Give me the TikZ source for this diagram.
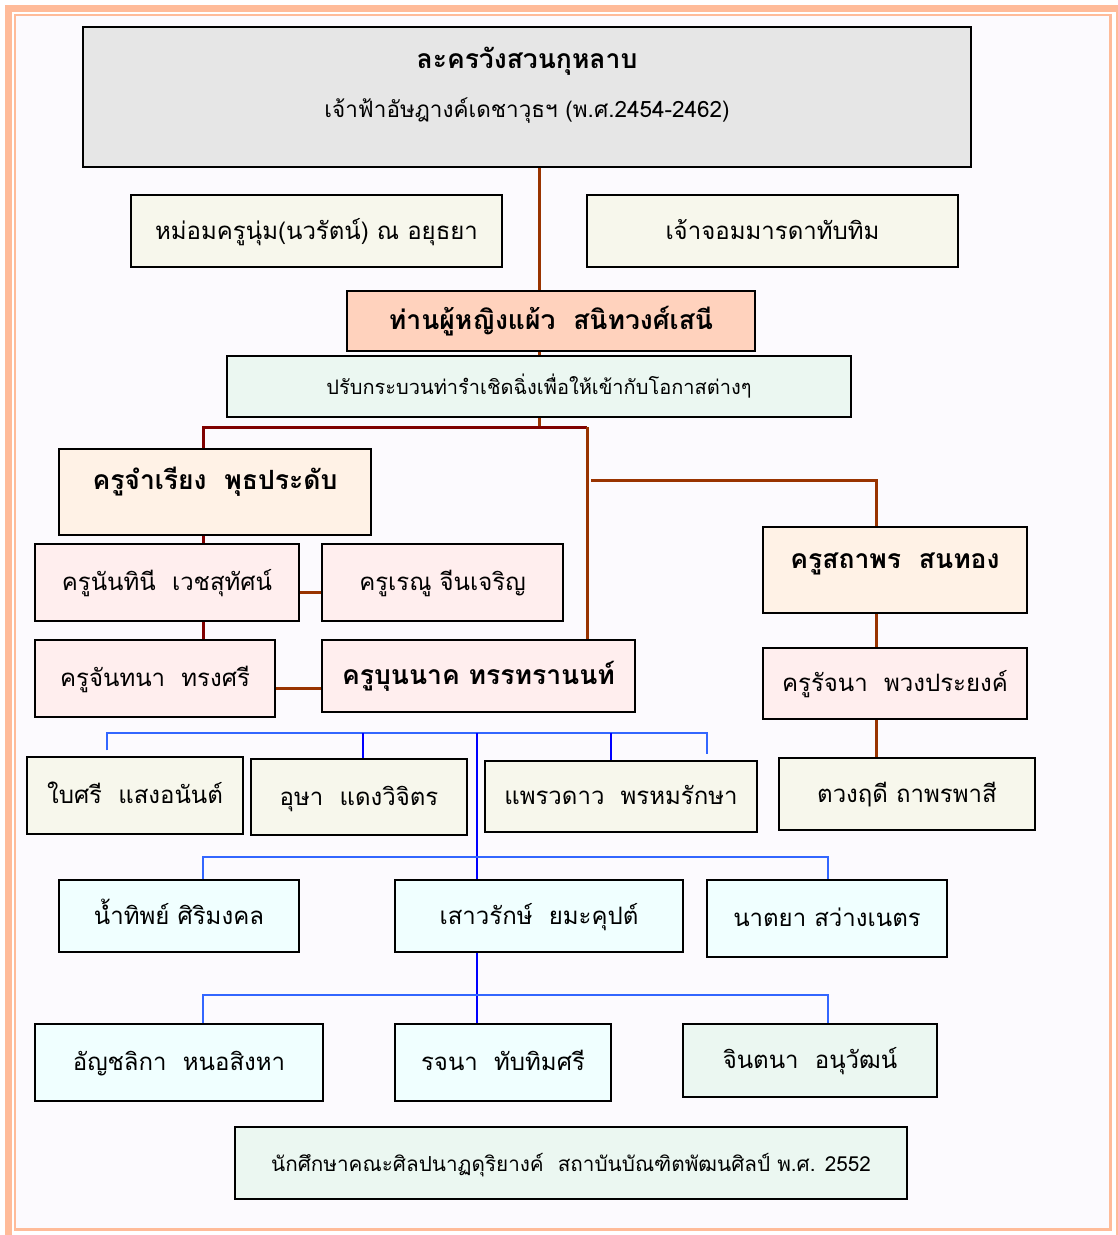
\documentclass[tikz,border=0pt]{standalone}
\usepackage{fontspec}
\usepackage{tikz}
\newfontfamily\thaifont[Script=Thai]{Loma}
\definecolor{greybox}{HTML}{E6E6E6}
\definecolor{beige}{HTML}{F7F7EC}
\definecolor{peach}{HTML}{FFD2BD}
\definecolor{cream}{HTML}{FFF2E6}
\definecolor{pinkbox}{HTML}{FFEEEE}
\definecolor{mint}{HTML}{EBF7F1}
\definecolor{azure}{HTML}{F0FFFF}
\definecolor{brownln}{HTML}{993300}
\definecolor{maroonln}{HTML}{800000}
\definecolor{blueln}{HTML}{3366FF}
\definecolor{dblueln}{HTML}{0000FF}
\definecolor{rim}{HTML}{FFBB99}
\definecolor{pagebg}{HTML}{FCFAFE}

\begin{document}
\begin{tikzpicture}[x=1pt, y=-1pt,
    box/.style={draw, line width=1.5pt, inner sep=0pt, text height=20pt, text depth=4pt, font=\thaifont\fontsize{24}{28}\selectfont},
    head/.style={box, font=\thaifont\bfseries\fontsize{26.5}{30}\selectfont},
    note/.style={box, font=\thaifont\fontsize{20}{24}\selectfont},
    brn/.style={draw=brownln, line width=3pt},
    mrn/.style={draw=maroonln, line width=3pt},
    lnk/.style={draw=blueln, line width=2.5pt},
    dlnk/.style={draw=dblueln, line width=2pt}
]
\useasboundingbox (0,0) rectangle (1118,1235);
\fill[white] (0,0) rectangle (1118,1235);
\fill[pagebg] (15,15) rectangle (1110.5,1229.5);
\draw[rim, line width=7pt] (8.5,8.5) rectangle (1119,1239);
\draw[rim, line width=2.5pt] (15,15) rectangle (1110.5,1229.5);

\node[box, fill=greybox, minimum width=888pt, minimum height=140pt, text height=41pt, text depth=99pt] (palace) at (527,97)
  {\begin{tabular}[t]{@{}c@{}}{\bfseries\fontsize{26.5}{28}\selectfont ละครวังสวนกุหลาบ}\\[21pt]\fontsize{22.5}{26}\selectfont เจ้าฟ้าอัษฎางค์เดชาวุธฯ (พ.ศ.2454-2462)\end{tabular}};
\node[box, fill=beige, minimum width=371pt, minimum height=72pt] (mom) at (316.5,231) {หม่อมครูนุ่ม(นวรัตน์) ณ อยุธยา};
\node[box, fill=beige, minimum width=371pt, minimum height=72pt] (jom) at (772.5,231) {เจ้าจอมมารดาทับทิม};
\node[head, fill=peach, minimum width=408pt, minimum height=60pt] (paew) at (551,321) {ท่านผู้หญิงแผ้ว\ \ สนิทวงศ์เสนี};
\node[note, fill=mint, minimum width=624pt, minimum height=61pt] (adj) at (539,386.5) {ปรับกระบวนท่ารำเชิดฉิ่งเพื่อให้เข้ากับโอกาสต่างๆ};

\node[head, fill=cream, minimum width=312pt, minimum height=86pt, text depth=26pt] (jam) at (215,492) {ครูจำเรียง\ \ พุธประดับ};
\node[box, fill=pinkbox, minimum width=264pt, minimum height=77pt] (nan) at (167,582.5) {ครูนันทินี\ \ เวชสุทัศน์};
\node[box, fill=pinkbox, minimum width=241pt, minimum height=77pt] (ren) at (442.5,582.5) {ครูเรณู จีนเจริญ};
\node[box, fill=pinkbox, minimum width=240pt, minimum height=77pt] (chan) at (155,678.5) {ครูจันทนา\ \ ทรงศรี};
\node[head, fill=pinkbox, minimum width=313pt, minimum height=72pt] (boon) at (478.5,676) {ครูบุนนาค ทรรทรานนท์};

\node[head, fill=cream, minimum width=264pt, minimum height=86pt, text depth=24pt] (sath) at (895,570) {ครูสถาพร\ \ สนทอง};
\node[box, fill=pinkbox, minimum width=264pt, minimum height=71pt] (rat) at (895,683.5) {ครูรัจนา\ \ พวงประยงค์};
\node[box, fill=beige, minimum width=256pt, minimum height=72pt] (tuang) at (907,794) {ตวงฤดี ถาพรพาสี};

\node[box, fill=beige, minimum width=216pt, minimum height=77pt] (bai) at (135,795.5) {ใบศรี\ \ แสงอนันต์};
\node[box, fill=beige, minimum width=216pt, minimum height=76pt] (usa) at (359,797) {อุษา\ \ แดงวิจิตร};
\node[box, fill=beige, minimum width=272pt, minimum height=71pt] (prae) at (621,796.5) {แพรวดาว\ \ พรหมรักษา};

\node[box, fill=azure, minimum width=240pt, minimum height=72pt] (nam) at (179,916) {น้ำทิพย์ ศิริมงคล};
\node[box, fill=azure, minimum width=288pt, minimum height=72pt] (sao) at (539,916) {เสาวรักษ์\ \ ยมะคุปต์};
\node[box, fill=azure, minimum width=240pt, minimum height=77pt] (nat) at (827,918.5) {นาตยา สว่างเนตร};

\node[box, fill=azure, minimum width=288pt, minimum height=77pt] (anch) at (179,1062.5) {อัญชลิกา\ \ หนอสิงหา};
\node[box, fill=azure, minimum width=216pt, minimum height=77pt] (rot) at (503,1062.5) {รจนา\ \ ทับทิมศรี};
\node[box, fill=mint, minimum width=254pt, minimum height=73pt] (jin) at (810,1060.5) {จินตนา\ \ อนุวัฒน์};
\node[note, fill=mint, minimum width=672pt, minimum height=72pt, font=\thaifont\fontsize{20.7}{24}\selectfont] (stu) at (571,1163) {นักศึกษาคณะศิลปนาฏดุริยางค์\ \ สถาบันบัณฑิตพัฒนศิลป์ พ.ศ. 2552};

\coordinate (trunk) at (539,427);
\coordinate (lft) at (203,427);
\coordinate (rgt) at (587,427);
\coordinate (fork) at (591,480);
\coordinate (sbend) at (876,480);
\coordinate (bl) at (107,733);
\coordinate (br) at (707,733);
\coordinate (bm1) at (363,733);
\coordinate (bm2) at (611,733);
\coordinate (stem) at (477,733);
\coordinate (ml) at (203,857);
\coordinate (mr) at (828,857);
\coordinate (ll) at (203,995);
\coordinate (lr) at (828,995);

\draw[brn] (palace.south -| trunk) -- (paew.north -| trunk);
\draw[brn] (paew.south -| trunk) -- (adj.north -| trunk);
\draw[brn] (adj.south -| trunk) -- (trunk);
\draw[mrn] (jam.north -| lft) -- (lft) -- (rgt);
\draw[brn] (rgt) -- (boon.north -| rgt);
\draw[brn] (fork) -- (sbend) -- (sath.north -| sbend);
\draw[mrn] (jam.south -| lft) -- (nan.north -| lft);
\draw[mrn] (nan.south -| lft) -- (chan.north -| lft);
\draw[brn] ([yshift=-9.5pt]nan.east) -- ([yshift=-9.5pt]ren.west);
\draw[brn] ([yshift=-9.5pt]chan.east) -- ([yshift=-9.5pt]chan.east -| boon.west);
\draw[brn] (sath.south -| sbend) -- (rat.north -| sbend);
\draw[brn] (rat.south -| sbend) -- (tuang.north -| sbend);

\draw[lnk, shorten <=6pt, shorten >=6pt] (bai.north -| bl) -- (bl) -- (br) -- (prae.north -| br);
\draw[dlnk] (bm1) -- (usa.north -| bm1);
\draw[dlnk] (bm2) -- (prae.north -| bm2);
\draw[dlnk] (stem) -- (sao.north -| stem);
\draw[lnk] (nam.north -| ml) -- (ml) -- (mr) -- (nat.north -| mr);
\draw[dlnk] (sao.south -| stem) -- (rot.north -| stem);
\draw[lnk] (anch.north -| ll) -- (ll) -- (lr) -- (jin.north -| lr);
\end{tikzpicture}
\end{document}
